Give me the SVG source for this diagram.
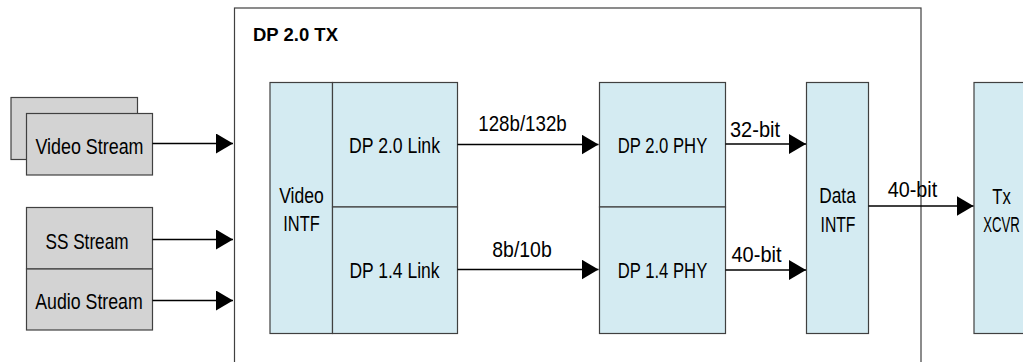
<svg xmlns="http://www.w3.org/2000/svg" width="1023" height="362" viewBox="0 0 1023 362">
<style>
text{font-family:"Liberation Sans",Arial,sans-serif;font-size:22px;fill:#000;text-anchor:middle}
.blue{fill:#d4ebf2;stroke:#404040;stroke-width:1.2}
.grey{fill:#d3d3d3;stroke:#404040;stroke-width:1.2}
.ln{stroke:#000;stroke-width:1.3;fill:none}
.title{font-weight:bold;font-size:18px;text-anchor:start}
</style>
<defs>
<marker id="ah" markerWidth="17" markerHeight="20" refX="17" refY="10" orient="auto" markerUnits="userSpaceOnUse">
<path d="M0,0 L17,10 L0,20 Z" fill="#000"/>
</marker>
</defs>
<g id="tx-box">
<rect x="234.5" y="8" width="686.5" height="370" fill="#fff" stroke="#404040" stroke-width="1.2"/>
<text class="title" x="253" y="41" textLength="85" lengthAdjust="spacingAndGlyphs">DP 2.0 TX</text>
</g>
<g id="video-stream">
<rect class="grey" x="11" y="97.5" width="126.5" height="62"/>
<rect class="grey" x="26.5" y="113.5" width="126" height="61.5"/>
<text x="89.5" y="154" textLength="108" lengthAdjust="spacingAndGlyphs">Video Stream</text>
</g>
<g id="ss-stream">
<rect class="grey" x="26.5" y="207.5" width="126" height="61.5"/>
<text x="87" y="248.5" textLength="83" lengthAdjust="spacingAndGlyphs">SS Stream</text>
</g>
<g id="audio-stream">
<rect class="grey" x="26.5" y="269" width="126" height="61"/>
<text x="89" y="308.5" textLength="107.5" lengthAdjust="spacingAndGlyphs">Audio Stream</text>
</g>
<g id="video-intf">
<rect class="blue" x="270" y="82.5" width="62.5" height="251"/>
<text x="301.5" y="203" textLength="44.5" lengthAdjust="spacingAndGlyphs">Video</text>
<text x="301.5" y="231" textLength="36.5" lengthAdjust="spacingAndGlyphs">INTF</text>
</g>
<g id="dp20-link">
<rect class="blue" x="332.5" y="82.5" width="125" height="124.5"/>
<text x="394.5" y="153" textLength="91" lengthAdjust="spacingAndGlyphs">DP 2.0 Link</text>
</g>
<g id="dp14-link">
<rect class="blue" x="332.5" y="207" width="125" height="126.5"/>
<text x="394.5" y="278" textLength="90" lengthAdjust="spacingAndGlyphs">DP 1.4 Link</text>
</g>
<g id="dp20-phy">
<rect class="blue" x="599.5" y="82.5" width="126" height="124.5"/>
<text x="662.5" y="153" textLength="89.5" lengthAdjust="spacingAndGlyphs">DP 2.0 PHY</text>
</g>
<g id="dp14-phy">
<rect class="blue" x="599.5" y="207" width="126" height="126.5"/>
<text x="662.5" y="278" textLength="89.5" lengthAdjust="spacingAndGlyphs">DP 1.4 PHY</text>
</g>
<g id="data-intf">
<rect class="blue" x="806.5" y="82.5" width="62" height="251"/>
<text x="837.5" y="203" textLength="36.5" lengthAdjust="spacingAndGlyphs">Data</text>
<text x="838" y="231.5" textLength="35" lengthAdjust="spacingAndGlyphs">INTF</text>
</g>
<g id="tx-xcvr">
<rect class="blue" x="974" y="82.5" width="64" height="251"/>
<text x="1001.5" y="204" textLength="18.5" lengthAdjust="spacingAndGlyphs">Tx</text>
<text transform="translate(1001.5,231.5) scale(0.6,1)" x="0" y="0">XCVR</text>
</g>
<g id="connectors">
<line class="ln" x1="152.5" y1="143.5" x2="233" y2="143.5" marker-end="url(#ah)"/>
<line class="ln" x1="152.5" y1="239.5" x2="233" y2="239.5" marker-end="url(#ah)"/>
<line class="ln" x1="152.5" y1="300.5" x2="233" y2="300.5" marker-end="url(#ah)"/>
<line class="ln" x1="457.5" y1="144.5" x2="598.5" y2="144.5" marker-end="url(#ah)"/>
<line class="ln" x1="457.5" y1="269.5" x2="598.5" y2="269.5" marker-end="url(#ah)"/>
<line class="ln" x1="725.5" y1="144" x2="806" y2="144" marker-end="url(#ah)"/>
<line class="ln" x1="725.5" y1="270" x2="806" y2="270" marker-end="url(#ah)"/>
<line class="ln" x1="868.5" y1="206" x2="973.5" y2="206" marker-end="url(#ah)"/>
<text x="522.5" y="131" textLength="88.5" lengthAdjust="spacingAndGlyphs">128b/132b</text>
<text x="522" y="257" textLength="59.5" lengthAdjust="spacingAndGlyphs">8b/10b</text>
<text x="755" y="137" textLength="50" lengthAdjust="spacingAndGlyphs">32-bit</text>
<text x="756.5" y="262" textLength="50" lengthAdjust="spacingAndGlyphs">40-bit</text>
<text x="912.5" y="197" textLength="49.5" lengthAdjust="spacingAndGlyphs">40-bit</text>
</g>
</svg>
